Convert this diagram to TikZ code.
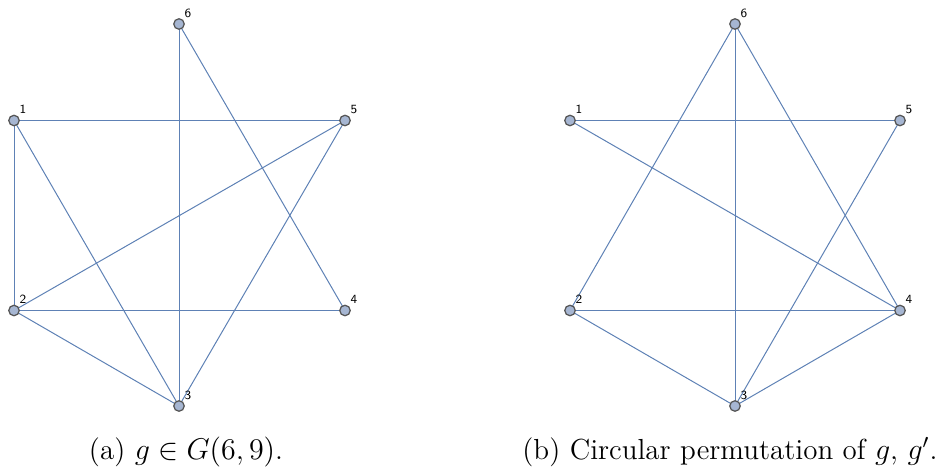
\documentclass[tikz,border=0pt]{standalone}
\usepackage{amssymb}
\definecolor{edgecol}{RGB}{94,129,181}
\definecolor{vfill}{RGB}{166,182,210}
\definecolor{vdraw}{RGB}{85,85,85}
\tikzset{
  vert/.style={circle,fill=vfill,draw=vdraw,line width=0.5pt,minimum size=4.2pt,inner sep=0pt},
  vlab/.style={font=\sffamily\fontsize{5}{6}\selectfont,inner sep=0pt},
  gedge/.style={draw=edgecol,line width=0.4pt},
  captext/.style={font=\fontsize{11.6}{13}\selectfont,inner sep=0pt,anchor=base}
}
\begin{document}
\begin{tikzpicture}[x=0.4pt,y=-0.4pt]
\useasboundingbox (0,0) rectangle (946,472);
% left graph coordinates
\foreach \n/\px/\py in {6/179/24,1/14/120.5,5/345/120.5,2/14/310.5,4/345/310.5,3/179/406}{
  \coordinate (a\n) at (\px,\py);
}
\foreach \n/\px/\py in {6/735/24,1/570/120.5,5/900/120.5,2/570/310.5,4/900/310.5,3/735/406}{
  \coordinate (b\n) at (\px,\py);
}
% left edges
\foreach \u/\v in {1/5,1/2,1/3,2/5,2/4,2/3,6/3,6/4,5/3}{
  \path[gedge] (a\u) -- (a\v);
}
% right edges
\foreach \u/\v in {1/5,1/4,6/2,6/3,6/4,2/4,2/3,5/3,3/4}{
  \path[gedge] (b\u) -- (b\v);
}
% vertices and labels
\foreach \n in {1,...,6}{
  \node[vert] (na\n) at (a\n) {};
  \node[vlab] (la\n) at ([xshift=9*0.4pt,yshift=11*0.4pt]a\n) {\n};
  \node[vert] (nb\n) at (b\n) {};
  \node[vlab] (lb\n) at ([xshift=9*0.4pt,yshift=11*0.4pt]b\n) {\n};
}
\node[captext] (capa) at (186,459) {(a) $g\in G(6,9)$.};
\node[captext] (capb) at (730,459) {(b) Circular permutation of $g$, $g'$.};
\end{tikzpicture}
\end{document}
